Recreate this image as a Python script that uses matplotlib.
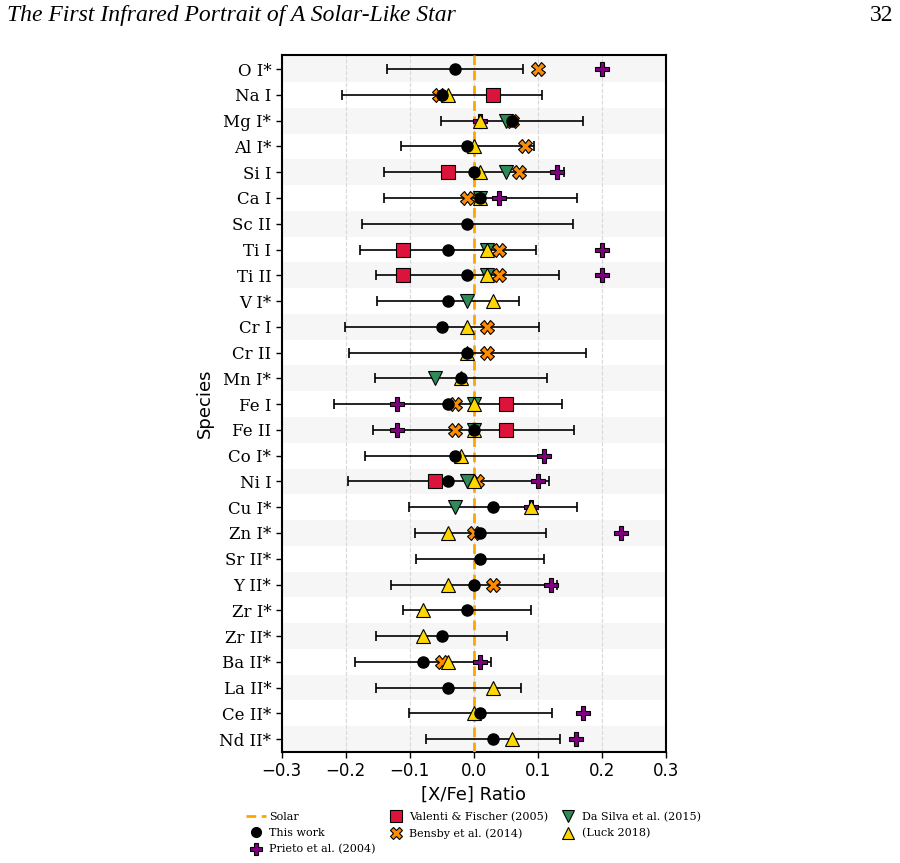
import numpy as np
import matplotlib as mpl
mpl.use('Agg')
import matplotlib.pyplot as plt
from matplotlib.lines import Line2D

nan = np.nan

# Species, top to bottom
species = ['O I*', 'Na I', 'Mg I*', 'Al I*', 'Si I', 'Ca I', 'Sc II', 'Ti I', 'Ti II',
           'V I*', 'Cr I', 'Cr II', 'Mn I*', 'Fe I', 'Fe II', 'Co I*', 'Ni I', 'Cu I*',
           'Zn I*', 'Sr II*', 'Y II*', 'Zr I*', 'Zr II*', 'Ba II*', 'La II*', 'Ce II*', 'Nd II*']

# This work [X/Fe] and uncertainty
this_work = [-0.03, -0.05, 0.06, -0.01, 0.00, 0.01, -0.01, -0.04, -0.01, -0.04, -0.05, -0.01,
             -0.02, -0.04, 0.00, -0.03, -0.04, 0.03, 0.01, 0.01, 0.00, -0.01, -0.05, -0.08,
             -0.04, 0.01, 0.03]
this_err = [0.106, 0.156, 0.111, 0.104, 0.140, 0.151, 0.165, 0.137, 0.143, 0.111, 0.151, 0.185,
            0.134, 0.178, 0.157, 0.140, 0.157, 0.131, 0.102, 0.100, 0.130, 0.100, 0.102, 0.106,
            0.113, 0.112, 0.105]

# Literature values (nan = not available)
prieto = [0.20, nan, 0.01, nan, 0.13, 0.04, nan, 0.20, 0.20, nan, nan, nan, nan, -0.12, -0.12,
          0.11, 0.10, 0.09, 0.23, nan, 0.12, nan, nan, 0.01, nan, 0.17, 0.16]
valenti = [nan, 0.03, nan, nan, -0.04, nan, nan, -0.11, -0.11, nan, nan, nan, nan, 0.05, 0.05,
           nan, -0.06, nan, nan, nan, nan, nan, nan, nan, nan, nan, nan]
bensby = [0.10, -0.055, 0.06, 0.08, 0.07, -0.01, nan, 0.04, 0.04, nan, 0.02, 0.02, nan, -0.03,
          -0.03, nan, 0.005, nan, 0.00, nan, 0.03, nan, nan, -0.05, nan, nan, nan]
dasilva = [nan, nan, 0.05, nan, 0.05, 0.01, nan, 0.02, 0.02, -0.01, nan, nan, -0.06, 0.00, 0.00,
           nan, -0.01, -0.03, nan, nan, nan, nan, nan, nan, nan, nan, nan]
luck = [nan, -0.04, 0.01, 0.00, 0.01, 0.01, nan, 0.02, 0.02, 0.03, -0.01, -0.01, -0.02, 0.00,
        0.00, -0.02, 0.00, 0.09, -0.04, nan, -0.04, -0.08, -0.08, -0.04, 0.03, 0.00, 0.06]

y = np.arange(len(species))

fig = plt.figure(figsize=(9.0, 8.63), dpi=100)
ax = fig.add_axes([0.313, 0.1286, 0.427, 0.8074])

# alternating row shading
for i in y:
    if i % 2 == 0:
        ax.axhspan(i - 0.5, i + 0.5, color='#f6f6f6', zorder=0, lw=0)

ax.axvline(0, color='orange', linestyle='--', linewidth=2, zorder=3, dashes=(3.5, 2))

ax.errorbar(this_work, y, xerr=this_err, fmt='none', ecolor='black', elinewidth=1.2,
            capsize=3.5, capthick=1.2, zorder=4)

ax.plot(prieto, y, 'P', color='purple', mec='black', mew=0.8, ms=10, ls='none', zorder=5)
ax.plot(valenti, y, 's', color='crimson', mec='black', mew=0.8, ms=10, ls='none', zorder=5)
ax.plot(bensby, y, 'X', color='darkorange', mec='black', mew=0.8, ms=10, ls='none', zorder=5)
ax.plot(dasilva, y, 'v', color='seagreen', mec='black', mew=0.8, ms=10, ls='none', zorder=5)
ax.plot(luck, y, '^', color='gold', mec='black', mew=0.8, ms=10, ls='none', zorder=5)
ax.plot(this_work, y, 'o', color='black', ms=8, ls='none', zorder=6)

ax.set_xlim(-0.3, 0.3)
ax.set_ylim(len(species) - 0.5, -0.54)
ax.set_xticks(np.arange(-0.3, 0.31, 0.1))
ax.set_yticks(y)
ax.set_yticklabels(species, family='DejaVu Serif', fontsize=12)
ax.tick_params(axis='x', labelsize=12, direction='out', length=4, width=1)
ax.tick_params(axis='y', direction='out', length=4, width=1)
ax.xaxis.grid(True, linestyle='--', color='#d8d8d8', linewidth=0.8)
ax.set_axisbelow(True)
for s in ax.spines.values():
    s.set_linewidth(1.5)

ax.set_xlabel('[X/Fe] Ratio', fontsize=13)
ax.set_ylabel('Species', fontsize=13)

# legend handles
handles = [
    Line2D([], [], color='orange', ls='--', lw=2, dashes=(3.5, 2)),
    Line2D([], [], marker='o', color='black', ls='none', ms=7),
    Line2D([], [], marker='P', color='purple', mec='black', mew=0.8, ls='none', ms=9),
    Line2D([], [], marker='s', color='crimson', mec='black', mew=0.8, ls='none', ms=9),
    Line2D([], [], marker='X', color='darkorange', mec='black', mew=0.8, ls='none', ms=9),
    Line2D([], [], marker='v', color='seagreen', mec='black', mew=0.8, ls='none', ms=9),
    Line2D([], [], marker='^', color='gold', mec='black', mew=0.8, ls='none', ms=9),
]
labels = ['Solar', 'This work', 'Prieto et al. (2004)', 'Valenti & Fischer (2005)',
          'Bensby et al. (2014)', 'Da Silva et al. (2015)', '(Luck 2018)']
fig.legend(handles, labels, loc='upper center', bbox_to_anchor=(0.526, 0.071), ncol=3,
           prop={'family': 'DejaVu Serif', 'size': 8}, frameon=False, handlelength=1.8,
           columnspacing=0.9, labelspacing=0.55, handletextpad=0.3)

# page header
fig.text(0.008, 0.982, 'The First Infrared Portrait of A Solar-Like Star', family='Liberation Serif',
         style='italic', fontsize=17, va='center', ha='left')
fig.text(0.993, 0.982, '32', family='Liberation Serif', fontsize=17, va='center', ha='right')

fig.savefig('out.png', dpi=100)
